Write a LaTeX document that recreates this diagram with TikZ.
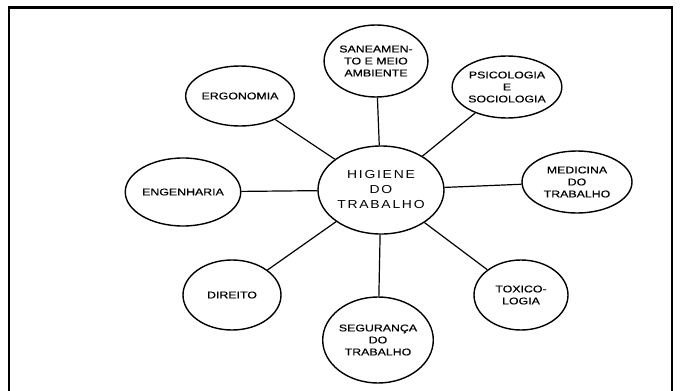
\documentclass[tikz,border=0pt]{standalone}
\usepackage{fontspec}
\setmainfont{Liberation Sans}
\newfontfamily\smallf[FakeStretch=1.26,FakeBold=0.6]{Liberation Sans}
\newfontfamily\bigf[FakeStretch=1.2,LetterSpace=15]{Liberation Sans}
\usetikzlibrary{shapes.geometric}
\begin{document}
\begin{tikzpicture}[x=1pt,y=-1pt,
  topic/.style={draw,ellipse,line width=1.4pt,inner sep=0pt,align=center,
    font=\smallf\fontsize{9.8}{12}\selectfont},
  hub/.style={draw,ellipse,line width=1.4pt,inner sep=0pt,align=center,
    font=\bigf\fontsize{11.6}{15}\selectfont},
  link/.style={line width=1.2pt},
  frame/.style={line width=2.5pt}]
\useasboundingbox (0,0) rectangle (683,391);
\coordinate (f1) at (9,391);
\coordinate (f2) at (9,7.5);
\coordinate (f3) at (672,7.5);
\coordinate (f4) at (672,391);
\draw[frame] (f1) -- (f2) -- (f3) -- (f4);

\node[hub, minimum width=126, minimum height=88] (C) at (381,190) {HIGIENE\\DO\\TRABALHO};
\node[topic, minimum width=100, minimum height=72] (SAN) at (376,61) {SANEAMEN-\\TO E MEIO\\AMBIENTE};
\node[topic, minimum width=100, minimum height=62] (PSI) at (507,87) {PSICOLOGIA\\E\\SOCIOLOGIA};
\node[topic, minimum width=110, minimum height=62] (MED) at (577,182) {MEDICINA\\DO\\TRABALHO};
\node[topic, minimum width=94, minimum height=70] (TOX) at (521,295) {TOXICO-\\LOGIA};
\node[topic, minimum width=90, minimum height=86] (SEG) at (378,340) {SEGURANÇA\\DO\\TRABALHO};
\node[topic, minimum width=98, minimum height=70] (DIR) at (232,295) {DIREITO};
\node[topic, minimum width=102, minimum height=68] (ENG) at (183,192) {ENGENHARIA};
\node[topic, minimum width=96, minimum height=60] (ERG) at (240,96) {ERGONOMIA};

\foreach \n in {SAN,PSI,MED,TOX,SEG,DIR,ENG,ERG}
  \draw[link] (C) -- (\n);
\end{tikzpicture}
\end{document}
